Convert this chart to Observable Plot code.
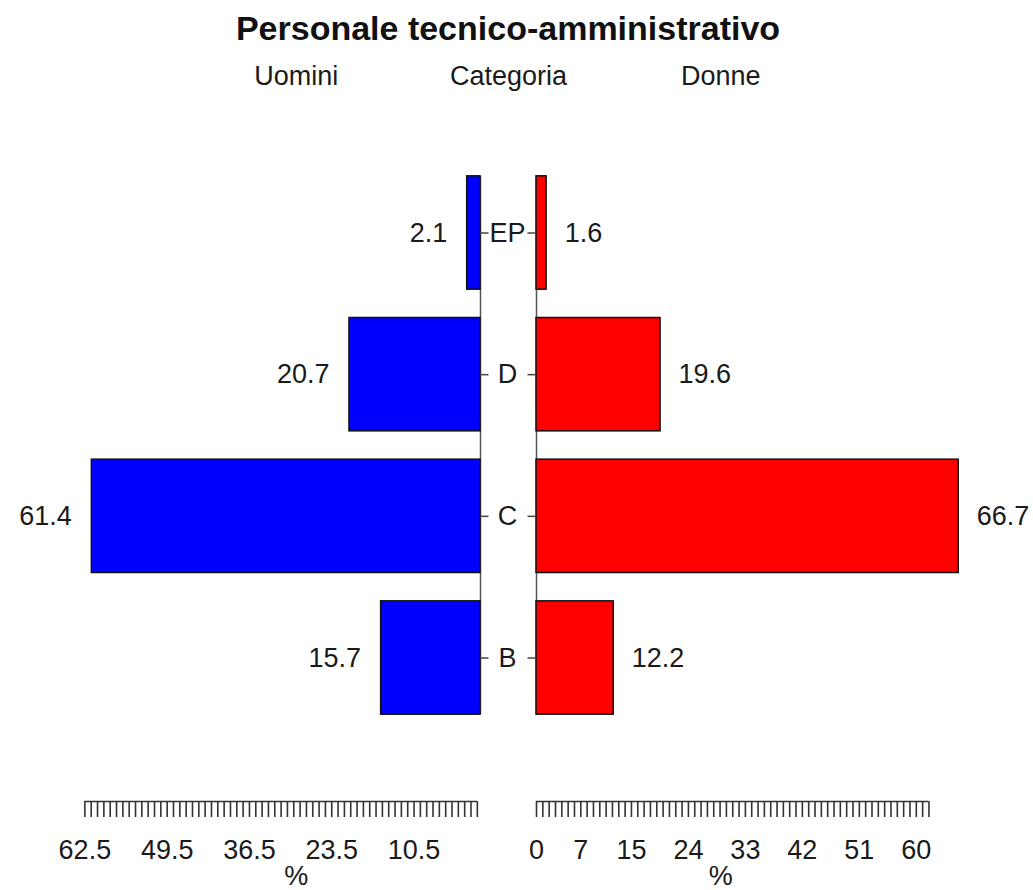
<!DOCTYPE html>
<html><head><meta charset="utf-8">
<script src="https://cdn.jsdelivr.net/npm/d3@7"></script>
<script src="https://cdn.jsdelivr.net/npm/@observablehq/plot@0.6"></script>
<style>
body{margin:0;background:#fff;font-family:"Liberation Sans",Arial,sans-serif;}
#wrap{position:relative;width:1033px;height:890px;overflow:hidden;}
#title{position:absolute;left:0;top:11px;width:1016px;text-align:center;font-weight:bold;font-size:34px;line-height:34px;color:#111;}
#chart{position:absolute;left:0;top:55px;}
</style></head><body>
<div id="wrap"><div id="title">Personale tecnico-amministrativo</div><div id="chart"></div></div>
<script>
// ---- data ----
const categories = ["EP", "D", "C", "B"];
const uomini = [2.1, 20.7, 61.4, 15.7];
const donne = [1.6, 19.6, 66.7, 12.2];
const leftTickLabels = [62.5, 49.5, 36.5, 23.5, 10.5];
const rightTickLabels = [0, 7, 15, 24, 33, 42, 51, 60];
const headers = ["Uomini", "Categoria", "Donne"];
const axisTitle = "%";

// ---- layout ----
const W = 1033, H = 835;
const pxPerUnit = 6.33;
const centerPx = 508;
const gapPx = 28;
const g = gapPx / pxPerUnit;
const stepPx = 141.67;
const firstCenter = 177.5;
const marginBottom = 89;
const barHalf = 0.4;
const axisY = (H - marginBottom - firstCenter) / stepPx;
const tickLen = 16 / stepPx;
const catTick = 8.5 / pxPerUnit;
const headerPos = 29.1;

const rows = categories.map((c, i) => ({cat: c, i, m: uomini[i], f: donne[i]}));
const leftTicks = d3.range(0.5, 63, 1);
const rightTicks = d3.range(0, 63, 1);
const xL = v => -g - v;
const xR = v => g + v;
const n = categories.length;
const ink = "#1a1a1a";

const chart = Plot.plot({
  width: W, height: H,
  marginTop: 21, marginBottom, marginLeft: 0, marginRight: 0,
  x: {domain: [-80, 80], range: [centerPx - 80 * pxPerUnit, centerPx + 80 * pxPerUnit], axis: null},
  y: {domain: [0, n - 1], range: [firstCenter, firstCenter + stepPx * (n - 1)], axis: null},
  style: {fontFamily: "'Liberation Sans', Arial, sans-serif", fontSize: "27px", color: ink, background: "white", overflow: "visible"},
  marks: [
    // central vertical lines
    Plot.ruleX([-g, g], {x: d => d, y1: () => -barHalf, y2: () => n - 1 + barHalf, stroke: "#555", strokeWidth: 1.5}),
    // bars
    Plot.rect(rows, {x1: d => xL(d.m), x2: () => -g, y1: d => d.i - barHalf, y2: d => d.i + barHalf, fill: "#0000ff", stroke: "#111", strokeWidth: 1.5}),
    Plot.rect(rows, {x1: () => g, x2: d => xR(d.f), y1: d => d.i - barHalf, y2: d => d.i + barHalf, fill: "#ff0000", stroke: "#111", strokeWidth: 1.5}),
    // category ticks
    Plot.ruleY(rows, {y: "i", x1: () => -g, x2: () => -g + catTick, stroke: "#444", strokeWidth: 1.5}),
    Plot.ruleY(rows, {y: "i", x1: () => g - catTick, x2: () => g, stroke: "#444", strokeWidth: 1.5}),
    // category labels
    Plot.text(rows, {x: () => 0, y: "i", text: "cat", dx: -1, fill: ink}),
    // value labels
    Plot.text(rows, {x: d => xL(d.m), y: "i", text: d => d.m.toFixed(1), textAnchor: "end", dx: -20, fill: ink}),
    Plot.text(rows, {x: d => xR(d.f), y: "i", text: d => d.f.toFixed(1), textAnchor: "start", dx: 18, fill: ink}),
    // headers
    Plot.text(headers, {x: (d, i) => [xL(headerPos), 0, xR(headerPos)][i], frameAnchor: "top", lineAnchor: "middle", text: d => d, fill: ink}),
    // bottom axes
    Plot.ruleY([0], {y: () => axisY, x1: () => xL(d3.max(leftTicks)), x2: () => xL(d3.min(leftTicks)), stroke: "#333", strokeWidth: 1.5}),
    Plot.ruleY([0], {y: () => axisY, x1: () => xR(d3.min(rightTicks)), x2: () => xR(d3.max(rightTicks)), stroke: "#333", strokeWidth: 1.5}),
    Plot.ruleX(leftTicks, {x: d => xL(d), y1: () => axisY, y2: () => axisY + tickLen, stroke: "#333", strokeWidth: 1.6}),
    Plot.ruleX(rightTicks, {x: d => xR(d), y1: () => axisY, y2: () => axisY + tickLen, stroke: "#333", strokeWidth: 1.6}),
    Plot.text(leftTickLabels, {x: d => xL(d), frameAnchor: "bottom", lineAnchor: "middle", dy: 49, text: d => String(d), fill: ink}),
    Plot.text(rightTickLabels, {x: d => xR(d), frameAnchor: "bottom", lineAnchor: "middle", dy: 49, text: d => String(d), fill: ink}),
    Plot.text([xL(headerPos), xR(headerPos)], {x: d => d, frameAnchor: "bottom", lineAnchor: "middle", dy: 75, text: () => axisTitle, fill: ink})
  ]
});
document.getElementById("chart").appendChild(chart);
</script>
</body></html>
